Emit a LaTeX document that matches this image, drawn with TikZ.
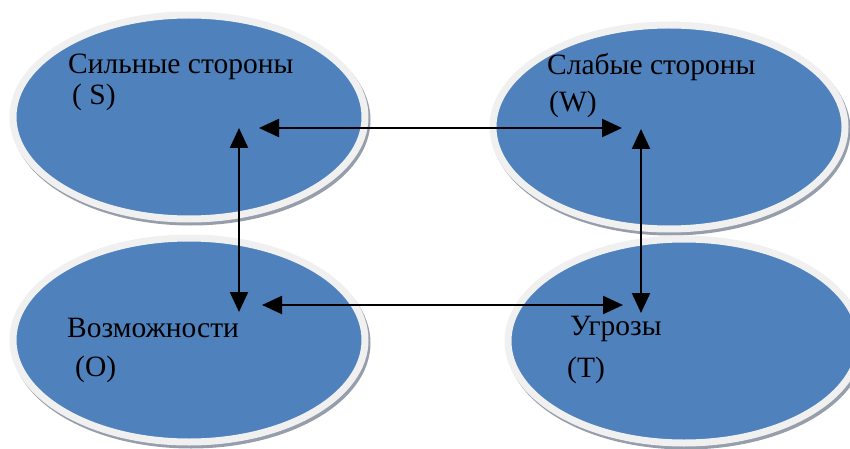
\documentclass[tikz,border=0pt]{standalone}
\usepackage{fontspec}
\setmainfont{Liberation Serif}
\usetikzlibrary{arrows.meta,shapes.geometric,shadows}

\definecolor{swotblue}{RGB}{79,129,189}
\definecolor{swotring}{RGB}{240,240,240}
\definecolor{swotshade}{RGB}{150,158,172}

\begin{document}
\begin{tikzpicture}[
  x=1pt, y=-1pt,
  field/.style={
    ellipse, draw=swotring, line width=7pt, fill=swotblue,
    minimum width=352pt, minimum height=204pt, inner sep=0pt,
    drop shadow={shadow xshift=2pt, shadow yshift=-3pt,
      fill=swotshade, draw=swotshade, line width=7pt, opacity=1}
  },
  lbl/.style={anchor=base west, inner sep=0pt, font=\fontsize{29.5}{34}\selectfont},
  tip/.tip={Triangle[length=20pt,width=18pt]},
  link/.style={tip-tip, line width=2.2pt}
]
  \useasboundingbox (0,0) rectangle (850,449);
  \node[field] (S) at (189,117){};
  \node[field] (W) at (669,127){};
  \node[field] (O) at (189,340){};
  \node[field] (T) at (684,341){};
  \node[lbl] (sname) at (68,74){Сильные стороны};
  \node[lbl] (sletter) at (72,105){( S)};
  \node[lbl] (wname) at (547,75){Слабые стороны};
  \node[lbl] (wletter) at (549,112){(W)};
  \node[lbl] (oname) at (67,337){Возможности};
  \node[lbl] (oletter) at (75,376){(O)};
  \node[lbl] (tname) at (570,335){Угрозы};
  \node[lbl] (tletter) at (567,377){(T)};
  \coordinate (sh) at (259,128);
  \coordinate (wh) at (622,128);
  \coordinate (sv) at (239,128);
  \coordinate (ov) at (239,312);
  \coordinate (oh) at (262,305);
  \coordinate (th) at (623,305);
  \coordinate (wv) at (641,129);
  \coordinate (tv) at (641,313);
  \draw[link] (sh)--(wh);
  \draw[link] (oh)--(th);
  \draw[link] (sv)--(ov);
  \draw[link] (wv)--(tv);
\end{tikzpicture}
\end{document}
